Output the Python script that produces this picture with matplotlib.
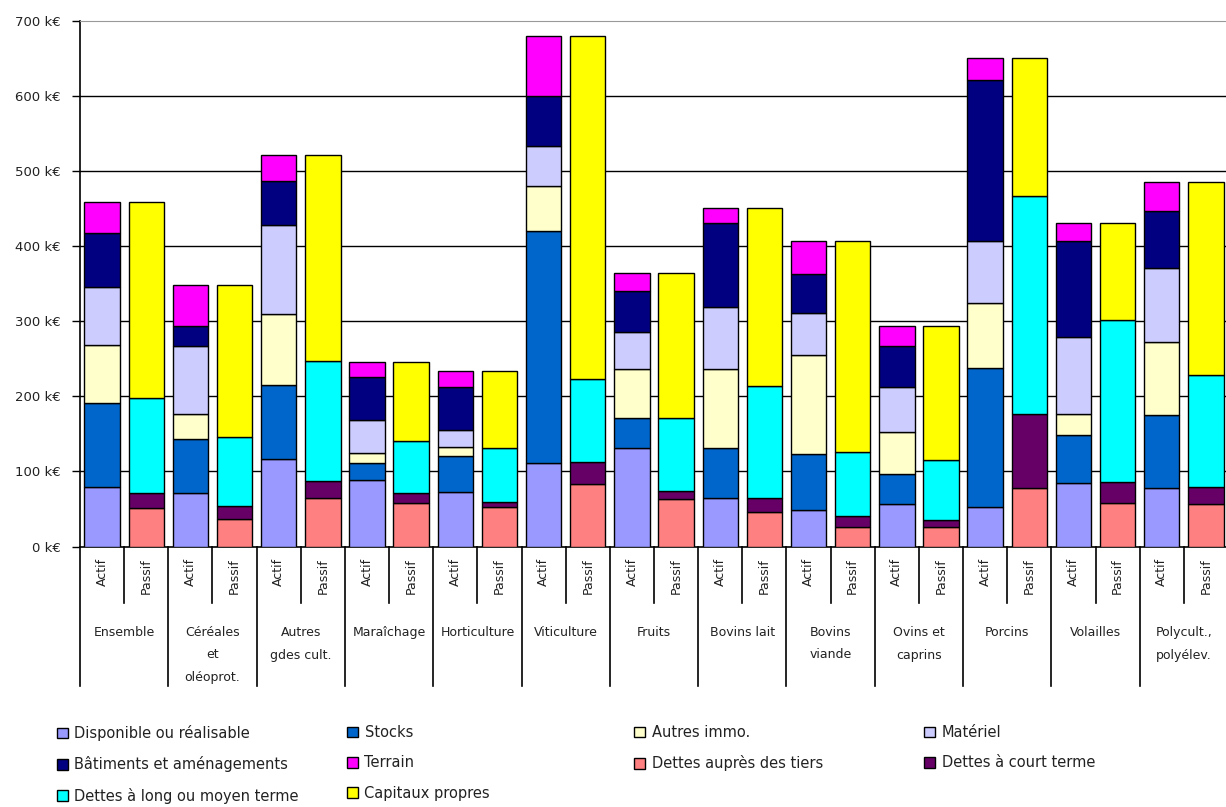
import matplotlib
matplotlib.use('Agg')
import matplotlib.pyplot as plt
import numpy as np
from matplotlib.transforms import blended_transform_factory

# ---------------- data ----------------
groups = ["Ensemble", "Céréales\net\noléoprot.", "Autres\ngdes cult.", "Maraîchage",
          "Horticulture", "Viticulture", "Fruits", "Bovins lait", "Bovins\nviande",
          "Ovins et\ncaprins", "Porcins", "Volailles", "Polycult.,\npolyélev."]
sides = ["Actif", "Passif"]

# Actif (k€)
disponible = [79, 71, 116, 88, 73, 111, 131, 64, 49, 57, 52, 85, 78]
stocks = [112, 72, 99, 23, 48, 309, 40, 67, 74, 39, 186, 64, 97]
autres_immo = [77, 33, 95, 13, 12, 60, 65, 105, 132, 57, 86, 27, 97]
materiel = [78, 91, 118, 44, 22, 53, 50, 83, 56, 59, 82, 103, 98]
batiments = [71, 26, 59, 58, 57, 66, 54, 111, 51, 55, 215, 128, 77]
terrain = [42, 55, 34, 19, 21, 80, 24, 21, 44, 27, 29, 24, 38]

# Passif (k€)
dettes_tiers = [51, 37, 64, 58, 52, 83, 63, 46, 26, 26, 78, 58, 56]
dettes_ct = [20, 17, 23, 13, 7, 29, 11, 19, 15, 9, 98, 28, 23]
dettes_lmt = [127, 92, 160, 70, 72, 111, 97, 148, 85, 80, 290, 216, 149]
capitaux = [261, 202, 274, 104, 102, 456, 193, 238, 280, 179, 184, 129, 257]

yticks = [0, 100, 200, 300, 400, 500, 600, 700]

actif_series = [
    ("Disponible ou réalisable", disponible, "#9999FF"),
    ("Stocks", stocks, "#0066CC"),
    ("Autres immo.", autres_immo, "#FFFFCC"),
    ("Matériel", materiel, "#CCCCFF"),
    ("Bâtiments et aménagements", batiments, "#000080"),
    ("Terrain", terrain, "#FF00FF"),
]
passif_series = [
    ("Dettes auprès des tiers", dettes_tiers, "#FF8080"),
    ("Dettes à court terme", dettes_ct, "#660066"),
    ("Dettes à long ou moyen terme", dettes_lmt, "#00FFFF"),
    ("Capitaux propres", capitaux, "#FFFF00"),
]

# ---------------- figure ----------------
W, H = 1226, 807
fig = plt.figure(figsize=(W / 100, H / 100), dpi=100)
FONT = "DejaVu Sans"
plt.rcParams['font.family'] = [FONT]

left_px, right_px, top_px, bot_px = 80, 1228, 20.5, 546.5
ax = fig.add_axes([left_px / W, 1 - bot_px / H, (right_px - left_px) / W, (bot_px - top_px) / H])

n = len(groups)
x_actif = np.arange(n) * 2 + 0.5
x_passif = np.arange(n) * 2 + 1.5
bw = 0.8

handles = {}
bottom = np.zeros(n)
for name, vals, col in actif_series:
    v = np.array(vals, dtype=float)
    b = ax.bar(x_actif, v, bw, bottom=bottom, color=col, edgecolor="black", linewidth=1.0, zorder=3)
    handles[name] = b
    bottom += v
bottom = np.zeros(n)
for name, vals, col in passif_series:
    v = np.array(vals, dtype=float)
    b = ax.bar(x_passif, v, bw, bottom=bottom, color=col, edgecolor="black", linewidth=1.0, zorder=3)
    handles[name] = b
    bottom += v

ax.set_xlim(0, 2 * n)
ax.set_ylim(0, 700)
ax.set_yticks(yticks)
ax.set_yticklabels([f"{t} k€" for t in yticks], fontsize=9.5, color="#222222")
ax.tick_params(axis='y', direction='out', length=6, width=1, color='black', pad=8)
ax.set_xticks([])
for t in yticks[1:-1]:
    ax.axhline(t, color="black", linewidth=1.0, zorder=1)
ax.spines['top'].set_color('#999999')
ax.spines['right'].set_visible(False)
ax.spines['left'].set_linewidth(1.2)
ax.spines['bottom'].set_linewidth(1.2)

# ---------------- category axis ----------------
tr = blended_transform_factory(ax.transData, fig.transFigure)
def fy(px):
    return 1 - px / H

for i in range(2 * n + 1):
    if i % 2 == 0:
        ax.plot([i, i], [fy(bot_px), fy(686)], transform=tr, color="black", lw=1.2, clip_on=False)
    else:
        ax.plot([i, i], [fy(bot_px), fy(603)], transform=tr, color="black", lw=1.2, clip_on=False)

for g in range(n):
    ax.text(x_actif[g], fy(558), sides[0], transform=tr, rotation=90, ha='center', va='top',
            fontsize=9, color="#222222")
    ax.text(x_passif[g], fy(558), sides[1], transform=tr, rotation=90, ha='center', va='top',
            fontsize=9, color="#222222")
    ax.text(2 * g + 1, fy(626), groups[g], transform=tr, ha='center', va='top',
            fontsize=9, color="#222222", linespacing=1.95)

# ---------------- legend ----------------
cols = [
    (57, ["Disponible ou réalisable", "Bâtiments et aménagements", "Dettes à long ou moyen terme"]),
    (347, ["Stocks", "Terrain", "Capitaux propres"]),
    (634, ["Autres immo.", "Dettes auprès des tiers"]),
    (924, ["Matériel", "Dettes à court terme"]),
]
for xpx, names in cols:
    leg = fig.legend([handles[nm] for nm in names], names, loc='upper left',
                     bbox_to_anchor=(xpx / W, 1 - 725 / H), frameon=False,
                     fontsize=10.5, handlelength=0.75, handleheight=0.75,
                     handletextpad=0.45, labelspacing=1.05, borderaxespad=0, borderpad=0)
    for t in leg.get_texts():
        t.set_color("#222222")

fig.savefig("out.png", dpi=100)
